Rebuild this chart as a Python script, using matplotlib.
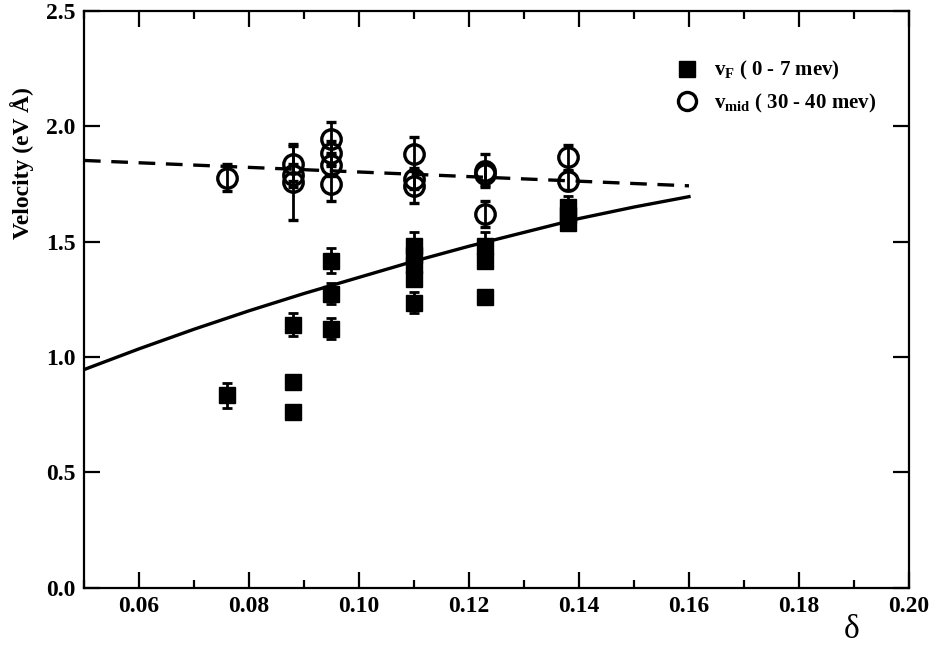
import matplotlib
matplotlib.use('Agg')
from matplotlib import pyplot as plt
from matplotlib.lines import Line2D
from matplotlib.ticker import MultipleLocator

plt.rcParams['font.family'] = ['Liberation Serif', 'DejaVu Serif']
plt.rcParams['font.weight'] = 'bold'
plt.rcParams['mathtext.fontset'] = 'custom'
plt.rcParams['mathtext.rm'] = 'Liberation Serif:bold'
plt.rcParams['mathtext.it'] = 'Liberation Serif:bold'
plt.rcParams['mathtext.bf'] = 'Liberation Serif:bold'

# v_F (0 - 7 meV), filled squares
vf_x = [0.076, 0.088, 0.088, 0.088, 0.095, 0.095, 0.095,
        0.110, 0.110, 0.110, 0.110, 0.110,
        0.123, 0.123, 0.123, 0.138, 0.138, 0.138]
vf_y = [0.833, 1.140, 0.893, 0.763, 1.418, 1.275, 1.123,
        1.480, 1.440, 1.400, 1.336, 1.236,
        1.483, 1.414, 1.258, 1.650, 1.615, 1.580]
vf_err = [0.054, 0.050, 0.015, 0.020, 0.054, 0.047, 0.046,
          0.060, 0.020, 0.020, 0.020, 0.045,
          0.060, 0.020, 0.020, 0.050, 0.020, 0.020]

# v_mid (30 - 40 meV), open circles
vm_x = [0.076, 0.088, 0.088, 0.088, 0.095, 0.095, 0.095, 0.095,
        0.110, 0.110, 0.110, 0.123, 0.123, 0.123, 0.138, 0.138]
vm_y = [1.778, 1.838, 1.787, 1.760, 1.947, 1.886, 1.834, 1.752,
        1.880, 1.770, 1.743, 1.808, 1.795, 1.620, 1.865, 1.765]
vm_err = [0.060, 0.075, 0.050, 0.165, 0.070, 0.050, 0.050, 0.075,
          0.075, 0.040, 0.075, 0.070, 0.050, 0.056, 0.055, 0.040]

# model curves
fit_x = [0.05, 0.06, 0.07, 0.08, 0.09, 0.10, 0.11, 0.12, 0.13, 0.14, 0.15, 0.16]
fit_vf = [0.945, 1.035, 1.120, 1.200, 1.275, 1.345, 1.415, 1.480, 1.540, 1.600, 1.650, 1.695]
fit_vm = [1.852, 1.842, 1.832, 1.822, 1.812, 1.802, 1.792, 1.782, 1.772, 1.762, 1.752, 1.742]

fig = plt.figure(figsize=(9.32, 6.45), dpi=100)
ax = fig.add_axes([0.0901, 0.0891, 0.8852, 0.8938])

ax.plot(fit_x, fit_vf, color='black', lw=2.4, zorder=2)
ax.plot(fit_x, fit_vm, color='black', lw=2.4, dashes=(5, 3.2), zorder=2)

ax.errorbar(vf_x, vf_y, yerr=vf_err, fmt='s', color='black', ms=12,
            elinewidth=2.0, capsize=3.5, capthick=2.0, zorder=3)
ax.errorbar(vm_x, vm_y, yerr=vm_err, fmt='o', color='black', mfc='none', ms=14,
            mew=2.4, elinewidth=2.0, capsize=3.5, capthick=2.0, zorder=3)

ax.set_xlim(0.05, 0.20)
ax.set_ylim(0.0, 2.5)
ax.xaxis.set_minor_locator(MultipleLocator(0.01))
ax.set_xticks([0.06, 0.08, 0.10, 0.12, 0.14, 0.16, 0.18, 0.20])
ax.set_xticklabels(['0.06', '0.08', '0.10', '0.12', '0.14', '0.16', '0.18', '0.20'])
ax.set_yticks([0.0, 0.5, 1.0, 1.5, 2.0, 2.5])
ax.set_yticklabels(['0.0', '0.5', '1.0', '1.5', '2.0', '2.5'])

ax.tick_params(which='both', direction='in', top=True, right=True, width=1.6, labelsize=17, pad=6)
ax.tick_params(which='major', length=11.5)
ax.tick_params(which='minor', length=5.8)
for s in ax.spines.values():
    s.set_linewidth(1.6)

fig.text(0.024, 1 - 163 / 645, 'Velocity (eV Å)', rotation=90, ha='center', va='center',
         fontsize=17, fontweight='bold')
fig.text(852 / 932, 1 - 630 / 645, 'δ', ha='center', va='center', fontsize=24, fontweight='normal')

handles = [Line2D([], [], marker='s', ls='none', color='black', ms=12),
           Line2D([], [], marker='o', ls='none', color='black', mfc='none', ms=13, mew=2.4)]
labels = [r'$v_F$ ( 0 - 7 mev)', r'$v_{mid}$ ( 30 - 40 mev)']
ax.legend(handles, labels, loc='center left', bbox_to_anchor=(0.693, 0.868), frameon=False,
          handlelength=1.2, handletextpad=0.7, labelspacing=0.45, prop={'size': 15, 'weight': 'bold'})

fig.savefig('out.png', dpi=100)
